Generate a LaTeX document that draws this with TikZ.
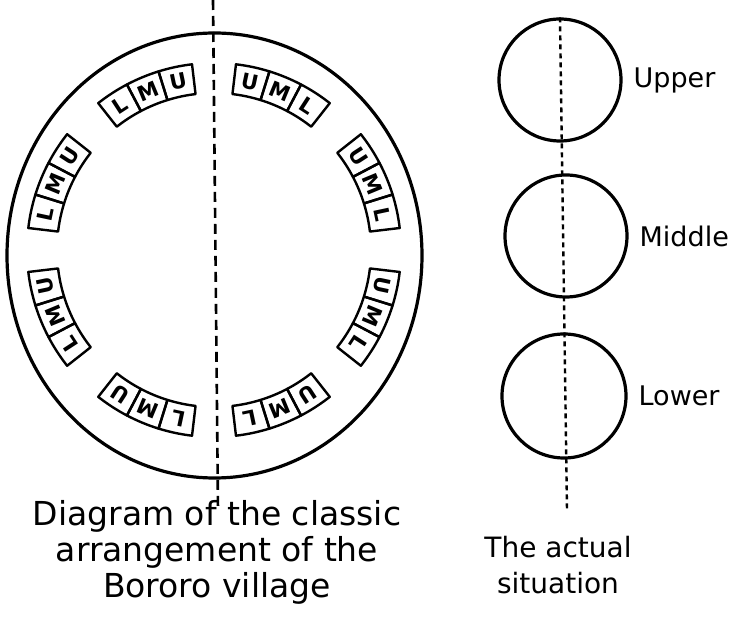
\documentclass[tikz,border=0pt]{standalone}
\usepackage{fontspec}
\setmainfont{DejaVu Sans}
\usetikzlibrary{positioning}
\begin{document}
\begin{tikzpicture}[x=0.5pt,y=0.5pt,
  ring/.style={line width=1.6pt},
  hut/.style={line width=1.2pt, line join=round},
  hutletter/.style={font=\fontsize{10.5}{10.5}\selectfont\bfseries, inner sep=0pt},
  halfline/.style={line width=1.3pt, dash pattern=on 5pt off 3pt},
  axisline/.style={line width=1.2pt, dash pattern=on 2.5pt off 2pt},
  village part/.style={circle, draw, ring, minimum size=61pt, inner sep=0pt},
  partname/.style={font=\fontsize{13.5}{15}\selectfont},
  caption/.style={font=\fontsize{14}{18}\selectfont, align=center}]
\useasboundingbox (0,0) rectangle (746,622);
% classic plan
\coordinate (village) at (214.5,366.5);
\coordinate (huts) at (214,372);
\draw[ring] (village) ellipse [x radius=207.5, y radius=222.5];
\draw[halfline] (213,622) -- (218,112);
\begin{scope}[shift={(huts)}]
\foreach \a/\first/\last in {22.5/U/L, 67.5/U/L, 112.5/L/U, 157.5/L/U,
                             202.5/L/U, 247.5/L/U, 292.5/U/L, 337.5/U/L} {
  \foreach \j/\t in {-1/\first, 0/M, 1/\last} {
    \pgfmathsetmacro\b{\a-10.5*\j}
    \draw[hut] (\b+5.25:157) -- (\b+5.25:187) arc[start angle=\b+5.25, end angle=\b-5.25, radius=187]
      -- (\b-5.25:157) arc[start angle=\b-5.25, end angle=\b+5.25, radius=157] -- cycle;
    \node[hutletter, rotate=\b-90] at (\b:172) {\t};
  }
}
\end{scope}
\node[caption, font=\fontsize{16.5}{18}\selectfont] (classic) at (217,70)
  {Diagram of the classic\\arrangement of the\\Bororo village};
% actual situation
\node[village part] (upper) at (560,542) {};
\node[village part] (middle) at (566,386) {};
\node[village part, minimum size=62pt] (lower) at (564,226) {};
\coordinate (axisend) at (567,112);
\draw[axisline] (upper.north) -- (axisend);
\node[partname, right=2pt of upper] (upperlabel) {Upper};
\node[partname, right=2pt of middle] (middlelabel) {Middle};
\node[partname, right=2pt of lower] (lowerlabel) {Lower};
\node[caption] (actual) at (558,57) {The actual\\situation};
\end{tikzpicture}
\end{document}
